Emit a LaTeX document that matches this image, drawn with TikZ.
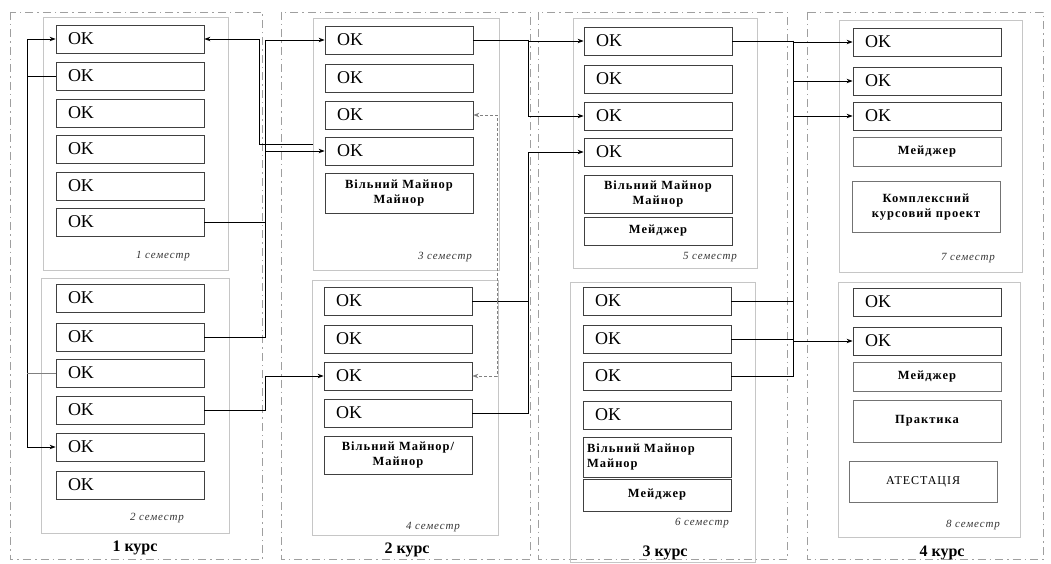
\documentclass[tikz,border=0pt]{standalone}
\usepackage{fontspec}
\setmainfont{Liberation Serif}
\newfontfamily\spacedfont[LetterSpace=8]{Liberation Serif}
\usetikzlibrary{arrows.meta}

\begin{document}
\begin{tikzpicture}[>={Stealth[length=6pt,width=4.5pt]}, x=1pt, y=-1pt,
  course/.style={gray!75, line width=0.7pt, dash pattern=on 8pt off 4pt on 1.5pt off 4pt},
  sem/.style={draw=gray!45, line width=0.6pt},
  ok/.style={draw=black!75, line width=0.8pt, minimum width=148pt, minimum height=28pt,
    text width=124pt, inner xsep=12pt, inner ysep=2pt, align=left, font=\fontsize{18}{20}\selectfont},
  disc/.style={draw=black!75, line width=0.8pt, minimum width=148pt, text width=140pt,
    inner xsep=4pt, inner ysep=2pt, align=center, font=\spacedfont\bfseries\fontsize{12.5}{14.5}\selectfont},
  semlbl/.style={font=\spacedfont\itshape\fontsize{11}{13}\selectfont, text=black!80},
  kurs/.style={font=\bfseries\fontsize{16}{18}\selectfont},
  link/.style={line width=0.9pt}]
  \useasboundingbox (0,0) rectangle (1051,564);
  % course frames and semester frames
  \draw[course] (10,12) rectangle (262,559);
  \draw[course] (281,12) rectangle (530,559);
  \draw[course] (538,12) rectangle (787,559);
  \draw[course] (807,12) rectangle (1043,559);
  \draw[sem] (43,17) rectangle (228,270);
  \draw[sem] (41,278) rectangle (229,533);
  \draw[sem] (313,18) rectangle (499,270);
  \draw[sem] (312,280) rectangle (498,535);
  \draw[sem] (573,18) rectangle (757,268);
  \draw[sem] (570,282) rectangle (755,562);
  \draw[sem] (839,20) rectangle (1022,272);
  \draw[sem] (838,282) rectangle (1020,537);
  % 1 курс
  \node[ok] (ok11) at (130,39) {OK};
  \node[ok] (ok12) at (130,76) {OK};
  \node[ok] (ok13) at (130,113) {OK};
  \node[ok] (ok14) at (130,149) {OK};
  \node[ok] (ok15) at (130,186) {OK};
  \node[ok] (ok16) at (130,222) {OK};
  \node[semlbl] (s1) at (163,256) {1 семестр};
  \node[ok] (ok21) at (130,298) {OK};
  \node[ok] (ok22) at (130,337) {OK};
  \node[ok] (ok23) at (130,373) {OK};
  \node[ok] (ok24) at (130,410) {OK};
  \node[ok] (ok25) at (130,447) {OK};
  \node[ok] (ok26) at (130,485) {OK};
  \node[semlbl] (s2) at (157,518) {2 семестр};
  \node[kurs] (k1) at (135,548) {1 курс};
  % 2 курс
  \node[ok] (ok31) at (399,40) {OK};
  \node[ok] (ok32) at (399,78) {OK};
  \node[ok] (ok33) at (399,115) {OK};
  \node[ok] (ok34) at (399,151) {OK};
  \node[disc, minimum height=40pt] (m3) at (399,193) {Вільний Майнор\\Майнор};
  \node[semlbl] (s3) at (445,257) {3 семестр};
  \node[ok] (ok41) at (398,301) {OK};
  \node[ok] (ok42) at (398,339) {OK};
  \node[ok] (ok43) at (398,376) {OK};
  \node[ok] (ok44) at (398,413) {OK};
  \node[disc, minimum height=38pt] (m4) at (398,455) {Вільний Майнор/\\Майнор};
  \node[semlbl] (s4) at (433,527) {4 семестр};
  \node[kurs] (k2) at (407,550) {2 курс};
  % 3 курс
  \node[ok] (ok51) at (658,41) {OK};
  \node[ok] (ok52) at (658,79) {OK};
  \node[ok] (ok53) at (658,116) {OK};
  \node[ok] (ok54) at (658,152) {OK};
  \node[disc, minimum height=38pt] (m5) at (658,194) {Вільний Майнор\\Майнор};
  \node[disc, minimum height=28pt] (mj5) at (658,231) {Мейджер};
  \node[semlbl] (s5) at (710,257) {5 семестр};
  \node[ok] (ok61) at (657,301) {OK};
  \node[ok] (ok62) at (657,339) {OK};
  \node[ok] (ok63) at (657,376) {OK};
  \node[ok] (ok64) at (657,415) {OK};
  \node[disc, minimum height=40pt, align=left] (m6) at (657,457) {Вільний Майнор\\Майнор};
  \node[disc, minimum height=32pt] (mj6) at (657,495) {Мейджер};
  \node[semlbl] (s6) at (702,523) {6 семестр};
  \node[kurs] (k3) at (665,553) {3 курс};
  % 4 курс
  \node[ok] (ok71) at (927,42) {OK};
  \node[ok] (ok72) at (927,81) {OK};
  \node[ok] (ok73) at (927,116) {OK};
  \node[disc, draw=black!55, minimum height=29pt] (mj7) at (927,152) {Мейджер};
  \node[disc, draw=black!55, minimum height=51pt] (kp7) at (926,207) {Комплексний\\курсовий проект};
  \node[semlbl] (s7) at (968,258) {7 семестр};
  \node[ok] (ok81) at (927,302) {OK};
  \node[ok] (ok82) at (927,341) {OK};
  \node[disc, draw=black!55, minimum height=29pt] (mj8) at (927,377) {Мейджер};
  \node[disc, draw=black!55, minimum height=42pt] (pr8) at (927,421) {Практика};
  \node[disc, draw=black!55, minimum height=41pt, font=\spacedfont\fontsize{12}{14}\selectfont] (at8) at (923,482) {АТЕСТАЦІЯ};
  \node[semlbl] (s8) at (973,525) {8 семестр};
  \node[kurs] (k4) at (942,553) {4 курс};
  % bus lines
  \coordinate (busL) at (27,0);
  \coordinate (busA) at (259,0);
  \coordinate (busB) at (265,0);
  \coordinate (busF) at (497,0);
  \coordinate (busD) at (528,0);
  \coordinate (busG) at (793,0);
  \coordinate (k34) at (313,144);
  % left loop, 1 and 2 семестр
  \draw[link,->] (ok12.west) -- (ok12.west -| busL) |- (ok11.west);
  \draw[link,->] (ok12.west -| busL) |- (ok25.west);
  \draw[link,gray] (ok23.west) -- (ok23.west -| busL);
  % 1 курс -> 2 курс
  \draw[link,<-] (ok11.east) -- (ok11.east -| busA) |- (k34);
  \draw[link,->] (ok22.east) -- (ok22.east -| busB) |- (ok31.west);
  \draw[link,->] (ok34.west -| busB) -- (ok34.west);
  \draw[link] (ok16.east) -- (ok16.east -| busB);
  \draw[link,->] (ok24.east) -- (ok24.east -| busB) |- (ok43.west);
  % 2 курс -> 3 курс
  \draw[link,->] (ok31.east) -- (ok31.east -| busD) |- (ok51.west);
  \draw[link,->] (ok31.east -| busD) |- (ok53.west);
  \draw[link,->] (ok44.east) -- (ok44.east -| busD) |- (ok54.west);
  \draw[link] (ok41.east) -- (ok41.east -| busD);
  \draw[link,gray,densely dashed,->] (ok41.east -| busF) |- (ok33.east);
  \draw[link,gray,densely dashed,->] (ok41.east -| busF) |- (ok43.east);
  % 3 курс -> 4 курс
  \draw[link,->] (ok51.east) -- (ok51.east -| busG) |- (ok71.west);
  \draw[link,->] (ok51.east -| busG) |- (ok72.west);
  \draw[link,->] (ok51.east -| busG) |- (ok73.west);
  \draw[link] (ok51.east -| busG) -- (ok63.east -| busG) -- (ok63.east);
  \draw[link] (ok61.east) -- (ok61.east -| busG);
  \draw[link,->] (ok62.east) -- (ok62.east -| busG) |- (ok82.west);
\end{tikzpicture}
\end{document}
